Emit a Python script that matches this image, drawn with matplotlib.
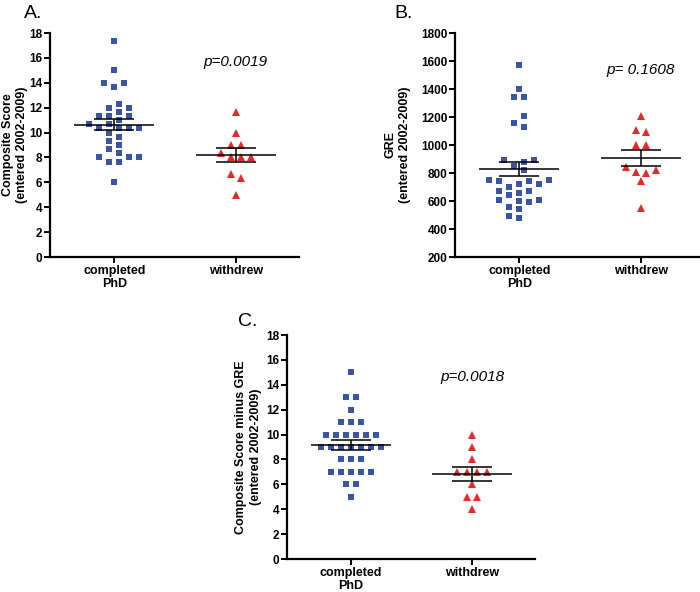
import matplotlib
matplotlib.use("Agg")
import matplotlib.pyplot as plt
import numpy as np

plt.rcParams["font.family"] = ["Liberation Sans", "DejaVu Sans"]
plt.rcParams["font.weight"] = "bold"

# --- data ---
GROUPS = ["completed\nPhD", "withdrew"]

A_COMPLETED = [17.33, 15, 14, 14, 13.67, 12.33, 12, 12, 11.67, 11.33, 11.33, 11.33,
               11, 10.67, 10.67, 10.33, 10.33, 10.33, 10.33, 10, 9.67, 9.33, 9,
               8.67, 8.33, 8, 8, 8, 7.67, 7.67, 6]
A_WITHDREW = [11.67, 10, 9, 9, 8.33, 8, 8, 8, 6.67, 6.33, 5]

B_COMPLETED = [1570, 1400, 1340, 1340, 1210, 1160, 1130, 880, 890, 890, 850, 820,
               750, 750, 740, 740, 720, 720, 700, 670, 660, 670, 640, 610, 610,
               590, 600, 540, 560, 480, 490]
B_WITHDREW = [1210, 1110, 1090, 1000, 1000, 840, 820, 810, 800, 740, 550]

C_COMPLETED = [15, 13, 13, 12, 11, 11, 11, 10, 10, 10, 10, 10, 10,
               9, 9, 9, 9, 9, 9, 9, 8, 8, 8, 7, 7, 7, 7, 7, 6, 6, 5]
C_WITHDREW = [10, 9, 8, 7, 7, 7, 7, 6, 5, 5, 4]

YLABELS = ["Composite Score\n(entered 2002-2009)",
           "GRE\n(entered 2002-2009)",
           "Composite Score minus GRE\n(entered 2002-2009)"]
P_TEXT = ["p=0.0019", "p= 0.1608", "p=0.0018"]
P_Y = [15.7, 1538, 14.6]
YTICKS = [np.arange(0, 19, 2), np.arange(200, 1801, 200), np.arange(0, 19, 2)]
LETTERS = ["A.", "B.", "C."]

BLUE = "#3A55A5"
RED = "#E62A2A"

W, H = 700, 592


def swarm_x(ax, values, center, step_px=10.0, gap_px=7.5):
    """simple beeswarm on a half-step grid, then centre each touching cluster"""
    vals = np.asarray(values, float)
    pts = ax.transData.transform(np.column_stack([np.full(len(vals), center), vals]))
    ys = pts[:, 1]
    px_per_x = ax.transData.transform((1, 0))[0] - ax.transData.transform((0, 0))[0]
    half = step_px / 2
    cands = [0] + [s * k for k in range(1, 60) for s in (-1, 1)]
    off = np.zeros(len(vals))
    placed = []
    order = np.argsort(ys, kind="stable")
    for i in order:
        for k in cands:
            x = k * half
            if all(abs(x - px) >= step_px - 1e-6 or abs(ys[i] - py) >= gap_px
                   for px, py in placed):
                break
        off[i] = x
        placed.append((x, ys[i]))
    # group into chains of vertically overlapping points and centre them
    comp = [[order[0]]]
    for a, b in zip(order[:-1], order[1:]):
        if ys[b] - ys[a] < gap_px:
            comp[-1].append(b)
        else:
            comp.append([b])
    for c in comp:
        c = np.array(c)
        shift = -(off[c].min() + off[c].max()) / 2
        shift = np.round(shift / half) * half
        off[c] += shift
    return center + off / px_per_x


def draw_panel(ax, completed, withdrew, ylabel, ptxt, py, yticks, letter, letter_xy, ylab_x):
    ax.set_xlim(-0.53, 1.52)
    ax.set_ylim(yticks[0], yticks[-1])
    for spine in ("top", "right"):
        ax.spines[spine].set_visible(False)
    for spine in ("left", "bottom"):
        ax.spines[spine].set_linewidth(1.6)

    for i, (vals, color, marker, ms) in enumerate(
            [(completed, BLUE, "s", 5.0), (withdrew, RED, "^", 5.6)]):
        xs = swarm_x(ax, vals, i)
        ax.plot(xs, vals, linestyle="none", marker=marker, markersize=ms,
                color=color, markeredgewidth=0, zorder=2)
        v = np.asarray(vals, float)
        m = v.mean()
        sem = v.std(ddof=1) / np.sqrt(len(v))
        ax.hlines(m, i - 0.33, i + 0.33, color="black", linewidth=1.1, zorder=3)
        ax.hlines([m - sem, m + sem], i - 0.165, i + 0.165, color="black",
                  linewidth=1.1, zorder=3)
        ax.vlines(i, m - sem, m + sem, color="black", linewidth=1.1, zorder=3)

    ax.set_xticks([0, 1])
    ax.set_xticklabels(GROUPS, fontsize=9, linespacing=1.15)
    ax.set_yticks(yticks)
    ax.tick_params(axis="both", direction="out", length=4, width=1.4, pad=1.5)
    ax.tick_params(axis="y", labelsize=8.5)
    ax.tick_params(axis="x", pad=1.5)

    ax.text(ylab_x, 0.5, ylabel, transform=ax.transAxes, rotation=90,
            ha="center", va="center", fontsize=9, linespacing=1.3)
    ax.text(1, py, ptxt, ha="center", va="center", fontsize=11,
            style="italic", fontweight="normal")
    ax.figure.text(letter_xy[0] / W, 1 - letter_xy[1] / H, letter,
                   fontsize=14, fontweight="normal", ha="left", va="center")


fig = plt.figure(figsize=(W / 100, H / 100), dpi=100)
fig.patch.set_facecolor("white")

# axes boxes in pixels: left, top, width, height
boxes = [(50, 33, 249, 224), (455, 33, 249, 224), (287, 335, 248, 224)]
letter_pos = [(24, 13), (394, 13), (238, 321)]
ylab_x = [-0.14, -0.23, -0.156]
data = [(A_COMPLETED, A_WITHDREW), (B_COMPLETED, B_WITHDREW), (C_COMPLETED, C_WITHDREW)]

for k in range(3):
    l, t, w, h = boxes[k]
    ax = fig.add_axes([l / W, 1 - (t + h) / H, w / W, h / H])
    draw_panel(ax, data[k][0], data[k][1], YLABELS[k], P_TEXT[k], P_Y[k],
               YTICKS[k], LETTERS[k], letter_pos[k], ylab_x[k])

fig.savefig("out.png", dpi=100, facecolor="white")
